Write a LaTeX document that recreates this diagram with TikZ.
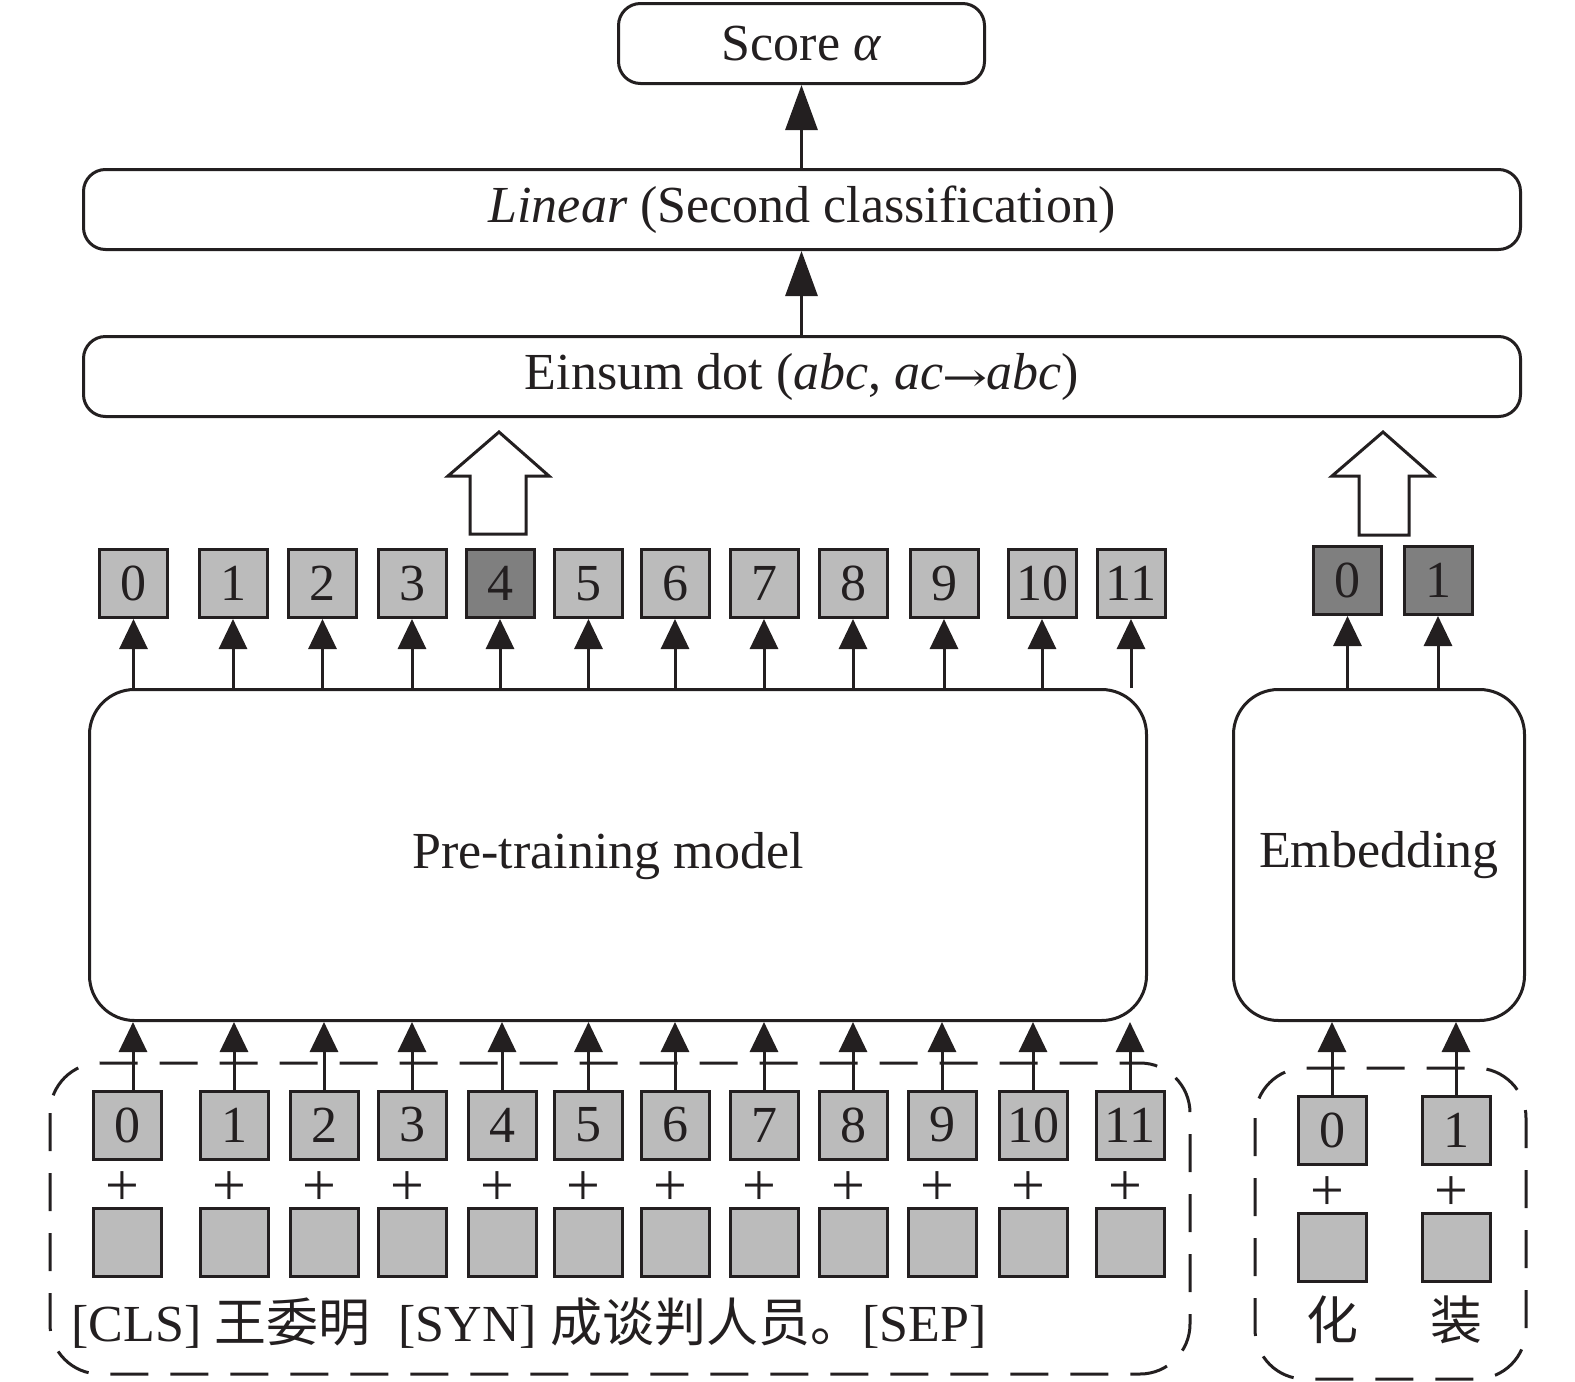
\documentclass[tikz,border=0pt]{standalone}
\usepackage{fontspec}
\setmainfont{Liberation Serif}
\newfontfamily\cjk{Noto Sans CJK SC}
\newfontfamily\dvs{DejaVu Serif}
\usetikzlibrary{arrows.meta}
\definecolor{ln}{HTML}{231F20}
\definecolor{lg}{HTML}{BBBBBB}
\definecolor{dg}{HTML}{7F7F7F}
\begin{document}
\begin{tikzpicture}[x=1pt,y=-1pt,line width=3pt,
  txt/.style={font=\fontsize{52}{60}\selectfont, text=ln},
  rbox/.style={draw=ln, rounded corners=22pt, inner sep=0pt, minimum height=80pt, txt},
  bigbox/.style={draw=ln, rounded corners=45pt, inner sep=0pt, minimum height=331pt},
  sq/.style={draw=ln, fill=lg, minimum size=68pt, inner sep=0pt, txt},
  dsq/.style={sq, fill=dg},
  plus/.style={inner sep=0pt, anchor=base, font=\fontsize{60}{60}\selectfont, text=ln},
  arr/.style={draw=ln, -{Triangle[length=30pt,width=28pt]}},
  bigarr/.style={draw=ln, -{Triangle[length=45pt,width=32pt]}},
  dbox/.style={draw=ln, dash pattern=on 38pt off 22pt, rounded corners=50pt},
  blk/.style={draw=ln, fill=white, line join=miter}
]
\useasboundingbox (0,0) rectangle (1575,1382);

% top boxes
\node[rbox, minimum width=366pt] (score) at (801.5,43.5) {Score \textit{α}};
\node[rbox, minimum width=1437pt] (linear) at (802,209.5) {\textit{Linear} (Second classification)};
\node[rbox, minimum width=1437pt] (einsum) at (802,376.5) {Einsum dot (\textit{abc}, \textit{ac}\kern-1pt\raisebox{-2pt}{\dvs\fontsize{40}{48}\selectfont\scalebox{1.35}[1]{→}}\kern-1pt\textit{abc})};
\draw[bigarr] (linear.north -| score.south) -- (score.south);
\draw[bigarr] (einsum.north -| score.south) -- (linear.south -| score.south);

% block arrows
\draw[blk] (499,432) -- (549,476) -- (526,476) -- (526,534) -- (470,534) -- (470,476) -- (448,476) -- cycle;
\draw[blk] (1383,432) -- (1433,476) -- (1409,476) -- (1409,535) -- (1359,535) -- (1359,476) -- (1332,476) -- cycle;

% main models
\node[bigbox, minimum width=1057pt] (pre) at (618,855) {};
\node[txt, inner sep=0pt] (pretxt) at (608,856) {Pre-training model};
\node[bigbox, minimum width=291pt, txt] (emb) at (1379,855) {Embedding};

% top row tokens
\foreach \i/\x in {0/133.5,1/233,2/322.5,3/412,5/588.5,6/675,7/764,8/853,9/944,10/1042,11/1131}{
  \node[sq] (t\i) at (\x,583.5) {\i};
}
\node[dsq] (t4) at (500,583.5) {4};
\foreach \i in {0,...,11}{
  \draw[arr] (t\i.south |- pre.north) -- (t\i.south);
}
\node[dsq] (e0) at (1347.5,580.5) {0};
\node[dsq] (e1) at (1438,580.5) {1};
\draw[arr] (e0.south |- emb.north) -- (e0.south);
\draw[arr] (e1.south |- emb.north) -- (e1.south);

% dashed groups
\draw[dbox] (50,1063) rectangle (1190,1374);
\draw[dbox] (1255,1068) rectangle (1526,1379);

% bottom tokens
\foreach \i/\x in {0/127.5,1/234,2/324,3/412,4/502,5/588.5,6/675,7/764,8/853,9/942,10/1033,11/1130}{
  \node[sq] (b\i) at (\x,1125) {\i};
  \node[plus] (p\i) at (\x-5,1205) {+};
  \node[sq] (w\i) at (\x,1242.5) {};
}
\coordinate (b0a) at (133,1090);
\draw[arr] (b0a) -- (b0a |- pre.south);
\foreach \i in {1,...,11}{
  \draw[arr] (b\i.north) -- (b\i.north |- pre.south);
}
\node[txt, anchor=west, inner sep=0pt] (sent) at (70,1323) {[CLS] {\cjk\fontsize{52}{60}\selectfont 王委明}\hspace{28pt}[SYN] {\cjk\fontsize{52}{60}\selectfont 成谈判人员。}[SEP]};

\foreach \i/\x/\c in {0/1332/化,1/1456/装}{
  \node[sq] (c\i) at (\x,1130) {\i};
  \node[plus] (q\i) at (\x-5,1210) {+};
  \node[sq] (v\i) at (\x,1247.5) {};
  \node[txt, inner sep=0pt] (h\i) at (\x,1320) {\cjk\fontsize{52}{60}\selectfont \c};
  \draw[arr] (c\i.north) -- (c\i.north |- emb.south);
}
\end{tikzpicture}
\end{document}
